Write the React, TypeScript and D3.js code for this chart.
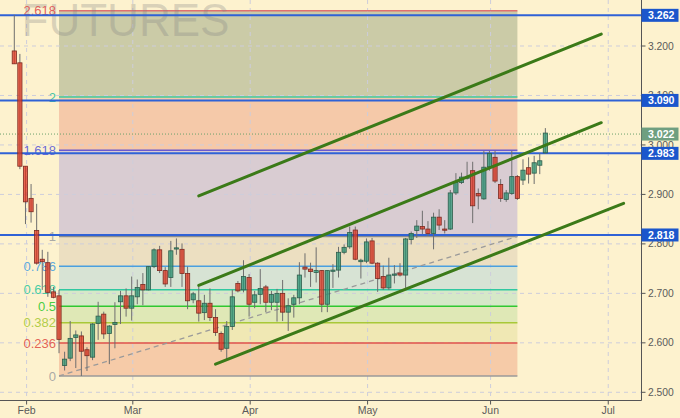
import React from 'react';
import * as d3 from 'd3';

// ---- data ----
const opens = [3.190,3.166,2.957,2.892,2.827,2.769,2.762,2.703,2.695,2.554,2.569,2.611,2.614,2.586,2.571,2.639,2.658,2.619,2.637,2.683,2.695,2.670,2.693,2.718,2.707,2.754,2.788,2.746,2.732,2.790,2.789,2.740,2.687,2.685,2.661,2.680,2.651,2.619,2.589,2.633,2.720,2.707,2.732,2.682,2.698,2.713,2.682,2.682,2.700,2.662,2.678,2.691,2.753,2.749,2.742,2.746,2.678,2.746,2.747,2.783,2.794,2.828,2.764,2.765,2.806,2.761,2.734,2.711,2.737,2.741,2.737,2.809,2.827,2.835,2.830,2.821,2.854,2.830,2.830,2.903,2.924,2.933,2.948,2.902,2.891,2.956,2.975,2.920,2.890,2.902,2.936,2.929,2.954,2.943,2.959,2.984];
const highs = [3.263,3.184,2.957,2.921,2.881,2.788,2.784,2.713,2.707,2.582,2.644,2.625,2.623,2.591,2.640,2.683,2.663,2.636,2.682,2.705,2.710,2.734,2.728,2.741,2.755,2.791,2.796,2.753,2.806,2.811,2.801,2.754,2.703,2.713,2.697,2.710,2.668,2.623,2.644,2.707,2.725,2.767,2.739,2.705,2.749,2.717,2.705,2.709,2.727,2.690,2.697,2.763,2.781,2.762,2.793,2.747,2.747,2.759,2.794,2.799,2.835,2.835,2.770,2.811,2.812,2.763,2.756,2.772,2.757,2.761,2.812,2.825,2.848,2.867,2.846,2.863,2.870,2.848,2.909,2.943,2.944,2.966,2.966,2.912,2.988,2.988,2.988,2.931,2.909,2.988,2.939,2.971,2.975,2.978,2.983,3.034];
const lows = [3.164,2.951,2.840,2.843,2.758,2.707,2.693,2.690,2.579,2.544,2.563,2.549,2.533,2.543,2.565,2.606,2.608,2.557,2.589,2.638,2.653,2.645,2.678,2.676,2.706,2.751,2.741,2.713,2.713,2.778,2.713,2.668,2.680,2.643,2.646,2.644,2.614,2.582,2.567,2.626,2.702,2.702,2.653,2.670,2.678,2.662,2.666,2.643,2.644,2.624,2.651,2.678,2.732,2.713,2.722,2.662,2.662,2.711,2.732,2.779,2.790,2.767,2.730,2.761,2.759,2.703,2.707,2.707,2.720,2.734,2.711,2.799,2.812,2.820,2.816,2.789,2.828,2.821,2.828,2.899,2.921,2.930,2.842,2.870,2.889,2.948,2.923,2.885,2.885,2.899,2.889,2.919,2.922,2.921,2.941,2.982];
const closes = [3.164,2.957,2.885,2.865,2.761,2.764,2.702,2.692,2.607,2.567,2.609,2.616,2.583,2.574,2.638,2.654,2.618,2.634,2.641,2.695,2.670,2.695,2.712,2.707,2.754,2.788,2.746,2.719,2.786,2.792,2.740,2.685,2.699,2.660,2.680,2.651,2.621,2.587,2.633,2.693,2.705,2.734,2.678,2.697,2.710,2.682,2.698,2.700,2.662,2.675,2.691,2.737,2.749,2.744,2.746,2.678,2.746,2.747,2.783,2.793,2.823,2.769,2.767,2.804,2.761,2.730,2.711,2.737,2.739,2.737,2.810,2.821,2.836,2.830,2.821,2.854,2.838,2.828,2.903,2.924,2.935,2.935,2.877,2.897,2.955,2.983,2.927,2.892,2.903,2.936,2.892,2.949,2.941,2.964,2.968,3.024];

const monthLabels = ['Feb', 'Mar', 'Apr', 'May', 'Jun', 'Jul'];
const monthIdx = [2.2, 21.2, 42.2, 63.2, 85.2, 106.25];
const yTicks = [2.5, 2.6, 2.7, 2.8, 2.9, 3.0, 3.1, 3.2, 3.3];

const fibRatios = [0, 0.236, 0.382, 0.5, 0.618, 0.786, 1, 1.618, 2, 2.618];
const fibLabels = ['0', '0.236', '0.382', '0.5', '0.618', '0.786', '1', '1.618', '2', '2.618'];
const fibLineColors = ['#9a9a9a', '#e05048', '#a8c838', '#30c830', '#30c8a0', '#4aa0e0', '#8c8c8c', '#6a5ad0', '#40c8a0', '#e07070'];
const fibLabelColors = ['#a0a0a0', '#e05048', '#a8c838', '#30c830', '#30c8a0', '#4aa0e0', '#a0a0a0', '#5a5ad8', '#30c0a0', '#e05050'];
const fibZoneColors = ['#f6cba8', '#f0e8b4', '#dfe8b6', '#d6e8c8', '#d7e3d4', '#ecdfc1', '#d9ccd2', '#f5c9a9', '#cbcba7'];
const fibLow = 2.533;
const fibHigh = 2.815;
const fibStartIdx = 8;
const fibEndIdx = 90;

const priceLevels = [3.262, 3.090, 2.983, 2.818];
const lastPrice = 3.022;

const channelStartIdx = [33, 33, 36];
const channelStartVal = [2.897, 2.716, 2.557];
const channelEndIdx = [105, 105, 109];
const channelEndVal = [3.224, 3.045, 2.882];

// ---- layout ----
const W = 680, H = 418;
const plotRight = 641.5;
const plotBottom = 400.5;
const FONT = '"Liberation Sans", Arial, sans-serif';

export default function App() {
  const x = d3.scaleLinear().domain([0, 95]).range([14.3, 545.35]);
  const y = d3.scaleLinear().domain([2.5, 3.2]).range([392.3, 46]);
  const fibVal = (r: number) => fibLow + r * (fibHigh - fibLow);
  const fx0 = x(fibStartIdx), fx1 = x(fibEndIdx);
  const bw = 4.2;
  const line = d3.line<[number, number]>().x(d => x(d[0])).y(d => y(d[1]));

  return (
    <svg width={W} height={H} style={{ position: 'absolute', left: 0, top: 0, display: 'block' }} fontFamily={FONT}>
      <defs>
        <clipPath id="plot"><rect x={0} y={0} width={plotRight} height={plotBottom} /></clipPath>
      </defs>
      <rect x={0} y={0} width={W} height={H} fill="#fdf2ce" />
      <g clipPath="url(#plot)">
        {fibZoneColors.map((c, i) => {
          const yTop = y(fibVal(fibRatios[i + 1]));
          const yBot = y(fibVal(fibRatios[i]));
          return <rect key={'z' + i} x={fx0} y={yTop} width={fx1 - fx0} height={yBot - yTop} fill={c} />;
        })}
        {yTicks.map(t => (
          <line key={'gy' + t} x1={0} x2={plotRight} y1={y(t)} y2={y(t)} stroke="#cdcddb" strokeDasharray="4,4" strokeWidth={1} />
        ))}
        {monthIdx.map((m, i) => (
          <line key={'gx' + i} x1={x(m)} x2={x(m)} y1={0} y2={plotBottom} stroke="#cdcddb" strokeDasharray="4,4" strokeWidth={1} />
        ))}
        {fibRatios.map((r, i) => (
          <line key={'fl' + i} x1={fx0} x2={fx1} y1={y(fibVal(r))} y2={y(fibVal(r))} stroke={fibLineColors[i]} strokeWidth={1.4} />
        ))}
        <text x={21.5} y={36} fontSize={47} fill="#808080" fillOpacity={0.28} textLength={208} lengthAdjust="spacingAndGlyphs">FUTURES</text>
        {fibRatios.map((r, i) => (
          <text key={'ft' + i} x={56} y={y(fibVal(r))} dy="0.35em" textAnchor="end" fontSize={13} fill={fibLabelColors[i]} fillOpacity={0.9}>{fibLabels[i]}</text>
        ))}
        <line x1={fx0} y1={y(fibLow)} x2={fx1} y2={y(fibHigh)} stroke="#9a9a9a" strokeWidth={1.3} strokeDasharray="5,4" />
        <line x1={0} x2={plotRight} y1={y(lastPrice)} y2={y(lastPrice)} stroke="#6aa06a" strokeWidth={1} strokeDasharray="1,2" />
        {priceLevels.map(p => (
          <line key={'pl' + p} x1={0} x2={plotRight} y1={y(p)} y2={y(p)} stroke="#2f62d6" strokeWidth={2} />
        ))}
        {opens.map((o, i) => {
          const c = closes[i];
          const up = c >= o;
          const cx = x(i);
          const top = y(Math.max(o, c));
          const bot = y(Math.min(o, c));
          return (
            <g key={'c' + i}>
              <line x1={cx} x2={cx} y1={y(highs[i])} y2={y(lows[i])} stroke="#6e6e6e" strokeWidth={1} />
              <rect x={cx - bw / 2} y={top} width={bw} height={Math.max(1.2, bot - top)}
                fill={up ? '#2a9474' : '#e0321e'} fillOpacity={0.72}
                stroke={up ? '#2d5e4c' : '#7c2a20'} strokeWidth={0.8} />
            </g>
          );
        })}
        {channelStartIdx.map((s, i) => (
          <path key={'ch' + i} d={line([[s, channelStartVal[i]], [channelEndIdx[i], channelEndVal[i]]]) || ''}
            stroke="#3b7a18" strokeWidth={3} strokeLinecap="round" fill="none" />
        ))}
      </g>
      {/* axes */}
      <line x1={plotRight} x2={plotRight} y1={0} y2={plotBottom} stroke="#555" strokeWidth={1} />
      <line x1={0} x2={plotRight} y1={plotBottom} y2={plotBottom} stroke="#555" strokeWidth={1} />
      {yTicks.map(t => (
        <g key={'yt' + t}>
          <line x1={plotRight} x2={plotRight + 4} y1={y(t)} y2={y(t)} stroke="#555" />
          <text x={648} y={y(t)} dy="0.35em" fontSize={10.3} fill="#5a5a5a">{d3.format('.3f')(t)}</text>
        </g>
      ))}
      {monthIdx.map((m, i) => (
        <g key={'xt' + i}>
          <line x1={x(m)} x2={x(m)} y1={plotBottom} y2={plotBottom + 4} stroke="#555" />
          <text x={x(m)} y={414} textAnchor="middle" fontSize={10.5} fill="#5a5a5a">{monthLabels[i]}</text>
        </g>
      ))}
      {priceLevels.map(p => (
        <g key={'pb' + p}>
          <rect x={plotRight} y={y(p) - 6.5} width={37} height={13} fill="#1b56cc" />
          <text x={648} y={y(p)} dy="0.36em" fontSize={10.6} fontWeight="bold" fill="#ffffff">{d3.format('.3f')(p)}</text>
        </g>
      ))}
      <rect x={plotRight} y={y(lastPrice) - 6.5} width={37} height={13} fill="#6f9f80" />
      <text x={648} y={y(lastPrice)} dy="0.36em" fontSize={10.6} fontWeight="bold" fill="#ffffff">{d3.format('.3f')(lastPrice)}</text>
    </svg>
  );
}
